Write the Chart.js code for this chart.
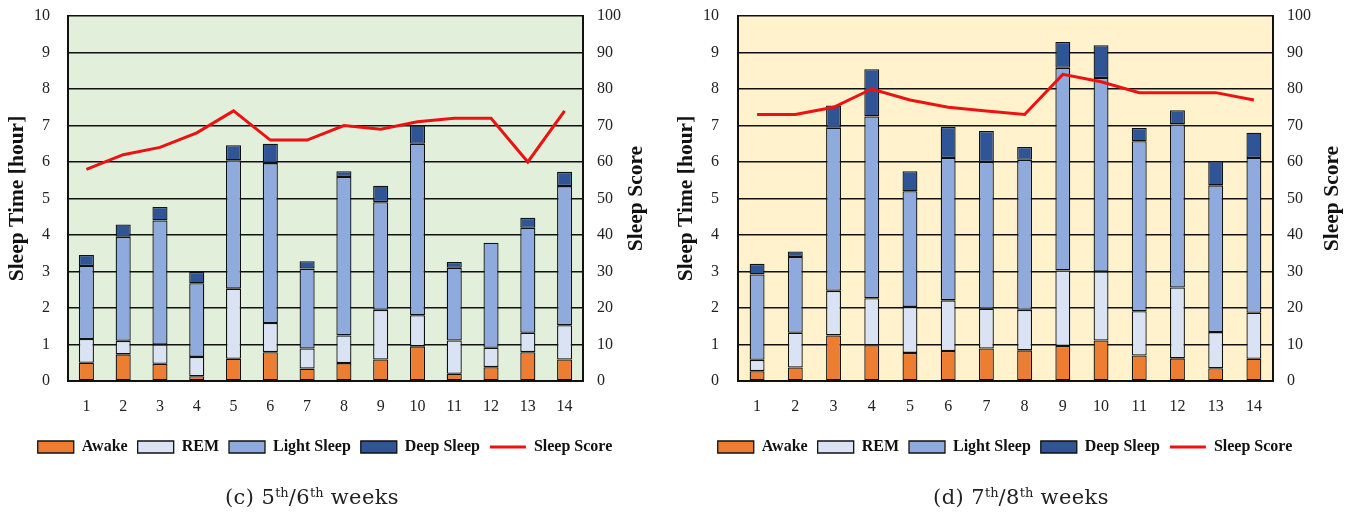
<!DOCTYPE html>
<html>
<head>
<meta charset="utf-8">
<script src="https://cdn.jsdelivr.net/npm/chart.js@4/dist/chart.umd.min.js"></script>
<style>
  html, body { margin: 0; padding: 0; background: #fff; }
  body { width: 1351px; height: 513px; position: relative; overflow: hidden; }
  .panel { position: absolute; top: 0; height: 513px; }
  .caption {
    position: absolute; top: 483px; width: 400px; text-align: center;
    font-family: "DejaVu Serif", serif; font-size: 21px; color: #222; line-height: 28px;
    letter-spacing: 0.4px;
  }
  .caption sup { font-size: 13px; vertical-align: 7px; line-height: 0; letter-spacing: 0; }
</style>
</head>
<body>
<div class="panel" style="left:0;width:650px;"><canvas id="chartC"></canvas></div>
<div class="panel" style="left:664px;width:682px;"><canvas id="chartD"></canvas></div>
<div class="caption" style="left:112px;">(c) 5<sup>th</sup>/6<sup>th</sup> weeks</div>
<div class="caption" style="left:821px;">(d) 7<sup>th</sup>/8<sup>th</sup> weeks</div>
<script>
// Night numbers (x-axis categories)
const nights = ['1','2','3','4','5','6','7','8','9','10','11','12','13','14'];

// Weeks 5/6 — sleep stage durations in hours, and nightly sleep score
const awakeC = [0.50, 0.73, 0.47, 0.13, 0.61, 0.79, 0.34, 0.49, 0.59, 0.95, 0.20, 0.38, 0.79, 0.59];
const remC   = [0.65, 0.37, 0.53, 0.53, 1.92, 0.80, 0.55, 0.76, 1.36, 0.85, 0.91, 0.53, 0.53, 0.94];
const lightC = [2.00, 2.85, 3.40, 2.02, 3.52, 4.38, 2.19, 4.34, 2.95, 4.70, 1.99, 2.88, 2.88, 3.81];
const deepC  = [0.30, 0.34, 0.37, 0.31, 0.41, 0.53, 0.20, 0.16, 0.45, 0.50, 0.16, 0.00, 0.27, 0.39];
const scoreC = [58, 62, 64, 68, 74, 66, 66, 70, 69, 71, 72, 72, 60, 74];

// Weeks 7/8
const awakeD = [0.27, 0.37, 1.25, 0.98, 0.77, 0.82, 0.89, 0.84, 0.96, 1.11, 0.70, 0.62, 0.35, 0.61];
const remD   = [0.31, 0.95, 1.22, 1.29, 1.26, 1.39, 1.09, 1.11, 2.07, 1.89, 1.21, 1.94, 0.99, 1.26];
const lightD = [2.34, 2.08, 4.47, 4.98, 3.17, 3.90, 4.02, 4.11, 5.55, 5.30, 4.66, 4.47, 4.02, 4.24];
const deepD  = [0.29, 0.15, 0.61, 1.29, 0.55, 0.85, 0.85, 0.35, 0.71, 0.90, 0.36, 0.39, 0.66, 0.69];
const scoreD = [73, 73, 75, 80, 77, 75, 74, 73, 84, 82, 79, 79, 79, 77];

// Axis tick ranges
const hourTicks = { min: 0, max: 10, step: 1 };
const scoreTicks = { min: 0, max: 100, step: 10 };

const COLORS = { awake: '#ED7D31', rem: '#DAE3F3', light: '#8FAADC', deep: '#2F5597', score: '#EE1111' };
const INK = '#111';
const serif = '"Liberation Serif", "Times New Roman", serif';

// Fills the plot area and writes both vertical axis titles (reading bottom-to-top)
const panelDecor = {
  id: 'panelDecor',
  beforeDraw(chart, args, opts) {
    const { ctx, chartArea: a } = chart;
    ctx.save();
    ctx.fillStyle = opts.bg;
    ctx.fillRect(a.left, a.top, a.right - a.left, a.bottom - a.top);
    ctx.restore();
  },
  afterDraw(chart, args, opts) {
    const { ctx, chartArea: a } = chart;
    const cy = (a.top + a.bottom) / 2;
    ctx.save();
    ctx.fillStyle = INK;
    ctx.font = 'bold 21.5px ' + serif;
    ctx.textAlign = 'center';
    ctx.textBaseline = 'middle';
    [[a.left - opts.leftGap, 'Sleep Time [hour]'], [a.right + opts.rightGap, 'Sleep Score']].forEach(([x, t]) => {
      ctx.save();
      ctx.translate(x, cy);
      ctx.rotate(-Math.PI / 2);
      ctx.fillText(t, 0, 0);
      ctx.restore();
    });
    ctx.restore();
  }
};

// Fixed axis box width with modest label overhang
function fixVertical(width) {
  return s => { s.width = width; s.paddingTop = 8; s.paddingBottom = 8; };
}

function build(id, d) {
  const barCommon = { borderColor: INK, borderWidth: 1.3, borderSkipped: false, yAxisID: 'y', stack: 'stages',
                      order: 1, categoryPercentage: 1, barPercentage: d.barPct };
  return new Chart(document.getElementById(id), {
    type: 'bar',
    data: {
      labels: nights,
      datasets: [
        { ...barCommon, label: 'Awake', data: d.awake, backgroundColor: COLORS.awake },
        { ...barCommon, label: 'REM', data: d.rem, backgroundColor: COLORS.rem },
        { ...barCommon, label: 'Light Sleep', data: d.light, backgroundColor: COLORS.light },
        { ...barCommon, label: 'Deep Sleep', data: d.deep, backgroundColor: COLORS.deep },
        { type: 'line', label: 'Sleep Score', data: d.score, yAxisID: 'y2', order: 0,
          borderColor: COLORS.score, backgroundColor: COLORS.score, borderWidth: 3,
          pointRadius: 0, tension: 0, fill: false }
      ]
    },
    options: {
      responsive: true,
      maintainAspectRatio: false,
      animation: false,
      layout: { padding: { top: 16, bottom: 48, left: 0, right: 0 } },
      plugins: {
        tooltip: { enabled: false },
        panelDecor: { bg: d.bg, leftGap: d.leftGap, rightGap: d.rightGap },
        legend: {
          position: 'bottom',
          labels: {
            usePointStyle: true, pointStyleWidth: 36, boxHeight: 12, padding: 10,
            color: INK, font: { family: serif, size: 16, weight: 'bold' },
            sort: (a, b) => a.datasetIndex - b.datasetIndex,
            generateLabels(chart) {
              return Chart.defaults.plugins.legend.labels.generateLabels(chart).map(item => {
                const isLine = item.datasetIndex === 4;
                return { ...item,
                  pointStyle: isLine ? 'line' : 'rect',
                  lineWidth: isLine ? 3 : 1.3,
                  strokeStyle: isLine ? COLORS.score : INK };
              });
            }
          }
        }
      },
      scales: {
        x: {
          stacked: true,
          grid: { display: false, drawTicks: false },
          border: { display: true, color: INK, width: 2 },
          ticks: { color: '#222', padding: 16, font: { family: serif, size: 16 } },
          afterFit(s) { s.height = 48; }
        },
        y: {
          stacked: true, position: 'left',
          min: hourTicks.min, max: hourTicks.max,
          grid: { color: INK, lineWidth: 1.5, drawTicks: false },
          border: { display: true, color: INK, width: 2 },
          ticks: { stepSize: hourTicks.step, color: '#222', padding: d.leftPad, font: { family: serif, size: 16 } },
          afterFit: fixVertical(d.leftW)
        },
        y2: {
          position: 'right',
          min: scoreTicks.min, max: scoreTicks.max,
          grid: { display: false, drawTicks: false },
          border: { display: true, color: INK, width: 2 },
          ticks: { stepSize: scoreTicks.step, color: '#222', padding: 14, font: { family: serif, size: 16 } },
          afterFit: fixVertical(d.rightW)
        }
      }
    },
    plugins: [panelDecor]
  });
}

build('chartC', { awake: awakeC, rem: remC, light: lightC, deep: deepC, score: scoreC,
  bg: '#E2EFDA', barPct: 0.41, leftW: 68, rightW: 67, leftPad: 18, leftGap: 51, rightGap: 53 });
build('chartD', { awake: awakeD, rem: remD, light: lightD, deep: deepD, score: scoreD,
  bg: '#FFF2CC', barPct: 0.39, leftW: 74, rightW: 73, leftPad: 19, leftGap: 52, rightGap: 59 });
</script>
</body>
</html>
